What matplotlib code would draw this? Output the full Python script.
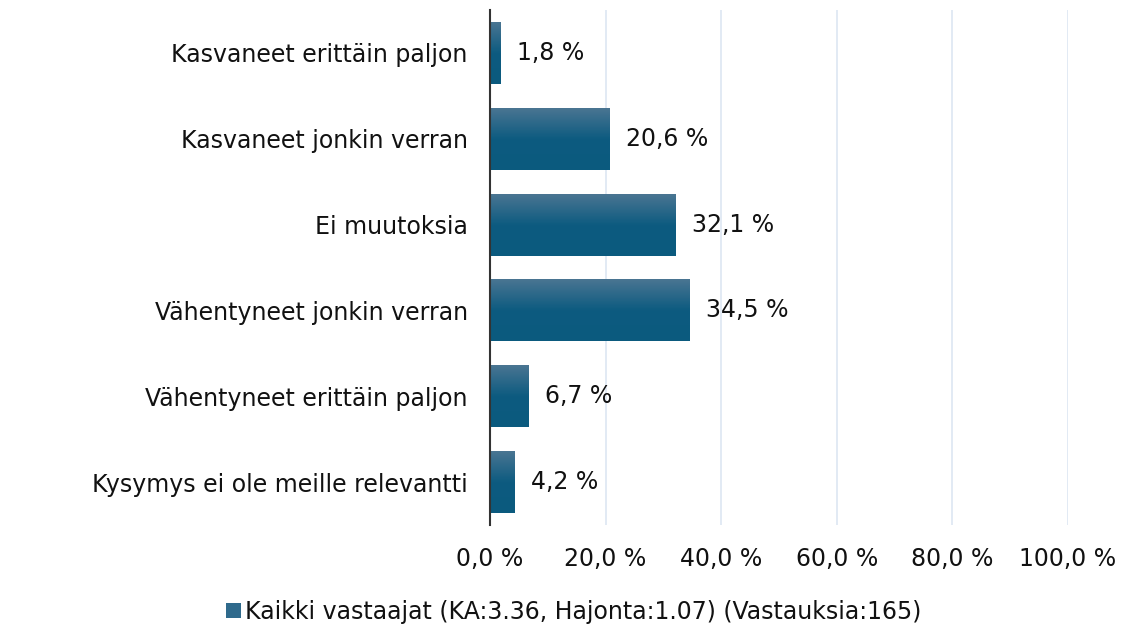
import matplotlib
matplotlib.use('Agg')
import matplotlib.pyplot as plt
import numpy as np
from matplotlib.colors import LinearSegmentedColormap
from matplotlib.patches import Patch

plt.rcParams['font.family'] = ['DejaVu Sans']

categories = ['Kasvaneet erittäin paljon', 'Kasvaneet jonkin verran', 'Ei muutoksia',
              'Vähentyneet jonkin verran', 'Vähentyneet erittäin paljon',
              'Kysymys ei ole meille relevantti']
values = [1.8, 20.6, 32.1, 34.5, 6.7, 4.2]
value_labels = ['1,8 %', '20,6 %', '32,1 %', '34,5 %', '6,7 %', '4,2 %']
ticks = [0, 20, 40, 60, 80, 100]
tick_labels = ['0,0 %', '20,0 %', '40,0 %', '60,0 %', '80,0 %', '100,0 %']
legend_label = 'Kaikki vastaajat (KA:3.36, Hajonta:1.07) (Vastauksia:165)'

fs = 17
fig = plt.figure(figsize=(11.3, 6.28), dpi=100)
ax = fig.add_axes([0.4336, 0.164, 0.5115, 0.82])

grad = LinearSegmentedColormap.from_list('g', ['#0b5a7e', '#0d5b80', '#4a7592'])
ypos = np.arange(len(categories))
bars = ax.barh(ypos, values, height=0.72, color='#0d5b80', zorder=2)
img = np.linspace(0, 1, 100).reshape(-1, 1)
for b in bars:
    x0, y0 = b.get_x(), b.get_y()
    ax.imshow(img, cmap=grad, aspect='auto', origin='upper', zorder=3,
              extent=[x0, x0 + b.get_width(), y0, y0 + b.get_height()])
    b.set_visible(False)

for y, v, t in zip(ypos, values, value_labels):
    ax.text(v + 2.9, y, t, va='center', ha='left', fontsize=fs, color='#111111')

ax.set_xlim(0, 100)
ax.set_ylim(len(categories) - 0.5, -0.5)
ax.set_yticks(ypos)
ax.set_yticklabels(categories, fontsize=fs, color='#111111')
ax.set_xticks(ticks)
ax.set_xticklabels(tick_labels, fontsize=fs, color='#111111')
ax.tick_params(axis='y', length=0, pad=16)
ax.tick_params(axis='x', length=0, pad=16)
ax.grid(axis='x', color='#dde6f2', linewidth=1.2, zorder=0)
for s in ['top', 'right', 'bottom']:
    ax.spines[s].set_visible(False)
ax.spines['left'].set_color('#333333')
ax.spines['left'].set_linewidth(1.5)
ax.spines['left'].set_zorder(4)

fig.legend(handles=[Patch(facecolor='#2f6a8c')], labels=[legend_label],
           loc='center', bbox_to_anchor=(0.508, 0.026), frameon=False,
           fontsize=fs, handlelength=0.6, handleheight=0.6, handletextpad=0.2,
           labelcolor='#111111')

fig.savefig('out.png', dpi=100)
